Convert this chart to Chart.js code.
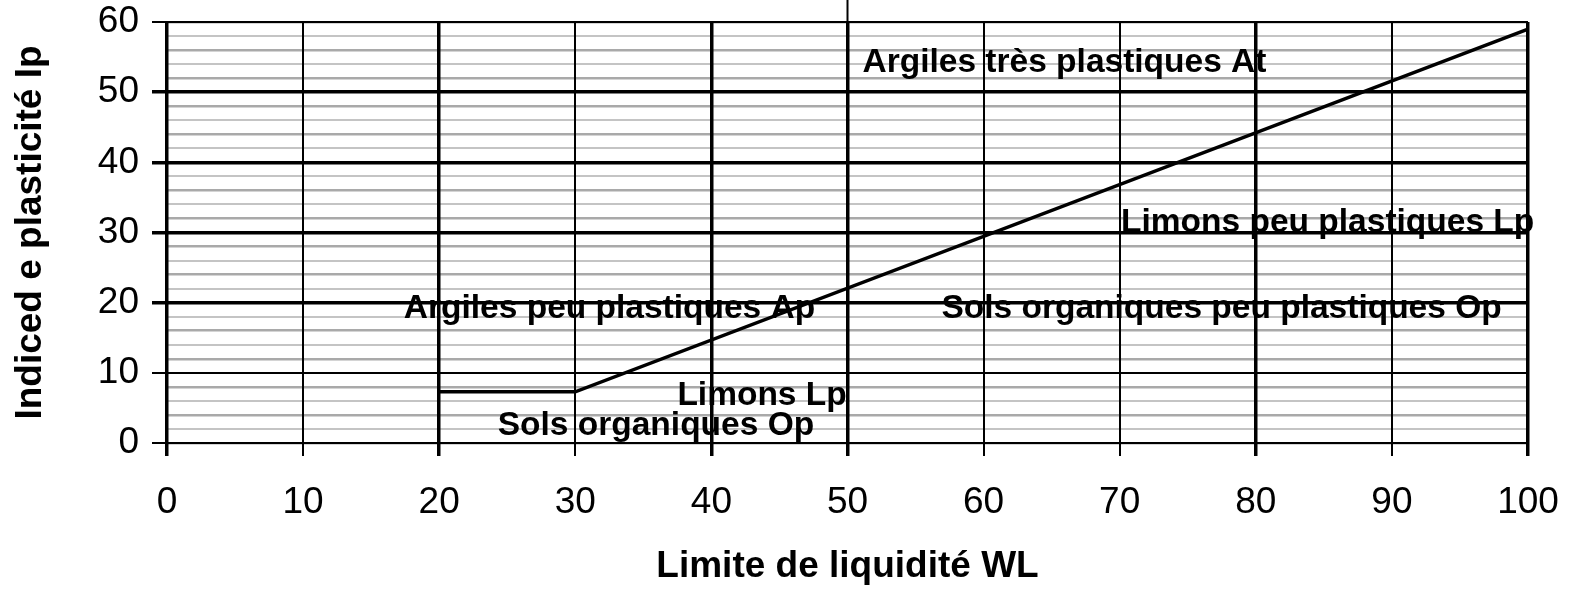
<!DOCTYPE html>
<html>
<head>
<meta charset="utf-8">
<title>Abaque de plasticité</title>
<script src="https://cdn.jsdelivr.net/npm/chart.js@4.4.1/dist/chart.umd.min.js"></script>
<style>
  body { margin: 0; background: #fff; }
  #wrap { width: 1573px; height: 592px; position: relative; }
</style>
</head>
<body>
<div id="wrap"><canvas id="plasticity-chart"></canvas></div>
<script>
// line A (limite entre argiles et limons)
const wlPoints = [20, 30, 100];
const ipPoints = [7.3, 7.3, 59];

// zone names, anchored at their left end / baseline in data units
const zoneNames = [
  'Argiles très plastiques At',
  'Limons peu plastiques Lp',
  'Argiles peu plastiques Ap',
  'Sols organiques peu plastiques Op',
  'Limons Lp',
  'Sols organiques Op'
];
const zoneWL = [51.1, 70.1, 17.4, 56.9, 37.5, 24.3];
const zoneIp = [52.9, 30.1, 17.8, 17.8, 5.4, 1.2];

const xTitle = 'Limite de liquidité WL';
const yTitle = 'Indiced e plasticité Ip';

const FONT = "'Liberation Sans', Arial, sans-serif";

// which grid lines are drawn heavy
const thickX = [0, 20, 40, 50, 80, 100];
const thickY = [20, 30, 40, 50];

//writes the zone names on the chart
const zoneLabels = {
  id: 'zoneLabels',
  afterDatasetsDraw(chart) {
    const ctx = chart.ctx;
    const x = chart.scales.x;
    const y = chart.scales.y;
    ctx.save();
    ctx.font = 'bold 33.5px ' + FONT;
    ctx.fillStyle = '#000';
    ctx.textAlign = 'left';
    ctx.textBaseline = 'alphabetic';
    zoneNames.forEach((name, i) => {
      ctx.fillText(name, x.getPixelForValue(zoneWL[i]), y.getPixelForValue(zoneIp[i]));
    });
    ctx.restore();
  }
};

//the little stray line above WL = 50
const strayLine = {
  id: 'strayLine',
  afterDraw(chart) {
    const ctx = chart.ctx;
    const px = chart.scales.x.getPixelForValue(50);
    ctx.save();
    ctx.strokeStyle = '#000';
    ctx.lineWidth = 2;
    ctx.beginPath();
    ctx.moveTo(px, 0);
    ctx.lineTo(px, chart.chartArea.top);
    ctx.stroke();
    ctx.restore();
  }
};

// keeps the tick labels from pushing the plot area around
function noOverflow(scale) {
  scale.paddingTop = 0;
  scale.paddingBottom = 0;
  scale.paddingLeft = 0;
  scale.paddingRight = 0;
}

const canvas = document.getElementById('plasticity-chart');

new Chart(canvas, {
  type: 'line',
  data: {
    datasets: [{
      label: 'Ligne A',
      data: wlPoints.map((wl, i) => ({ x: wl, y: ipPoints[i] })),
      borderColor: '#000',
      borderWidth: 3.5,
      pointRadius: 0,
      tension: 0,
      fill: false
    }]
  },
  options: {
    responsive: true,
    maintainAspectRatio: false,
    animation: false,
    layout: { padding: { top: 22, right: 45, left: 0, bottom: 0 } },
    plugins: {
      legend: { display: false },
      tooltip: { enabled: false }
    },
    scales: {
      x: {
        type: 'linear',
        min: 0,
        max: 100,
        ticks: {
          stepSize: 10,
          color: '#000',
          padding: 25,
          maxRotation: 0,
          font: { family: FONT, size: 37 }
        },
        grid: {
          color: '#000',
          lineWidth: c => thickX.includes(c.tick.value) ? 3.5 : 2,
          tickLength: 13
        },
        border: { display: false },
        title: {
          display: true,
          text: xTitle,
          color: '#000',
          padding: { top: 0, bottom: 3 },
          font: { family: FONT, size: 37, weight: 'bold' }
        },
        afterFit: scale => { scale.height = 149; noOverflow(scale); }
      },
      y: {
        type: 'linear',
        min: 0,
        max: 60,
        ticks: {
          stepSize: 10,
          color: '#000',
          padding: 13,
          font: { family: FONT, size: 37 }
        },
        grid: {
          color: '#000',
          lineWidth: c => thickY.includes(c.tick.value) ? 3.5 : 2,
          tickLength: 15
        },
        border: { display: false },
        title: {
          display: true,
          text: yTitle,
          color: '#000',
          padding: { top: 9, bottom: 0 },
          font: { family: FONT, size: 37, weight: 'bold' }
        },
        afterFit: scale => { scale.width = 167; noOverflow(scale); }
      },
      // minor grey lines every 2 units
      yMinor: {
        type: 'linear',
        position: 'left',
        min: 0,
        max: 60,
        ticks: { display: false, stepSize: 2 },
        grid: {
          z: -2,
          drawTicks: false,
          color: c => (c.tick.value / 2) % 2 === 0 ? '#a9a9a9' : '#c4c4c4',
          lineWidth: c => (c.tick.value / 2) % 2 === 0 ? 2.5 : 2
        },
        border: { display: false },
        afterFit: scale => { scale.width = 0; noOverflow(scale); }
      }
    }
  },
  plugins: [zoneLabels, strayLine]
});
</script>
</body>
</html>
